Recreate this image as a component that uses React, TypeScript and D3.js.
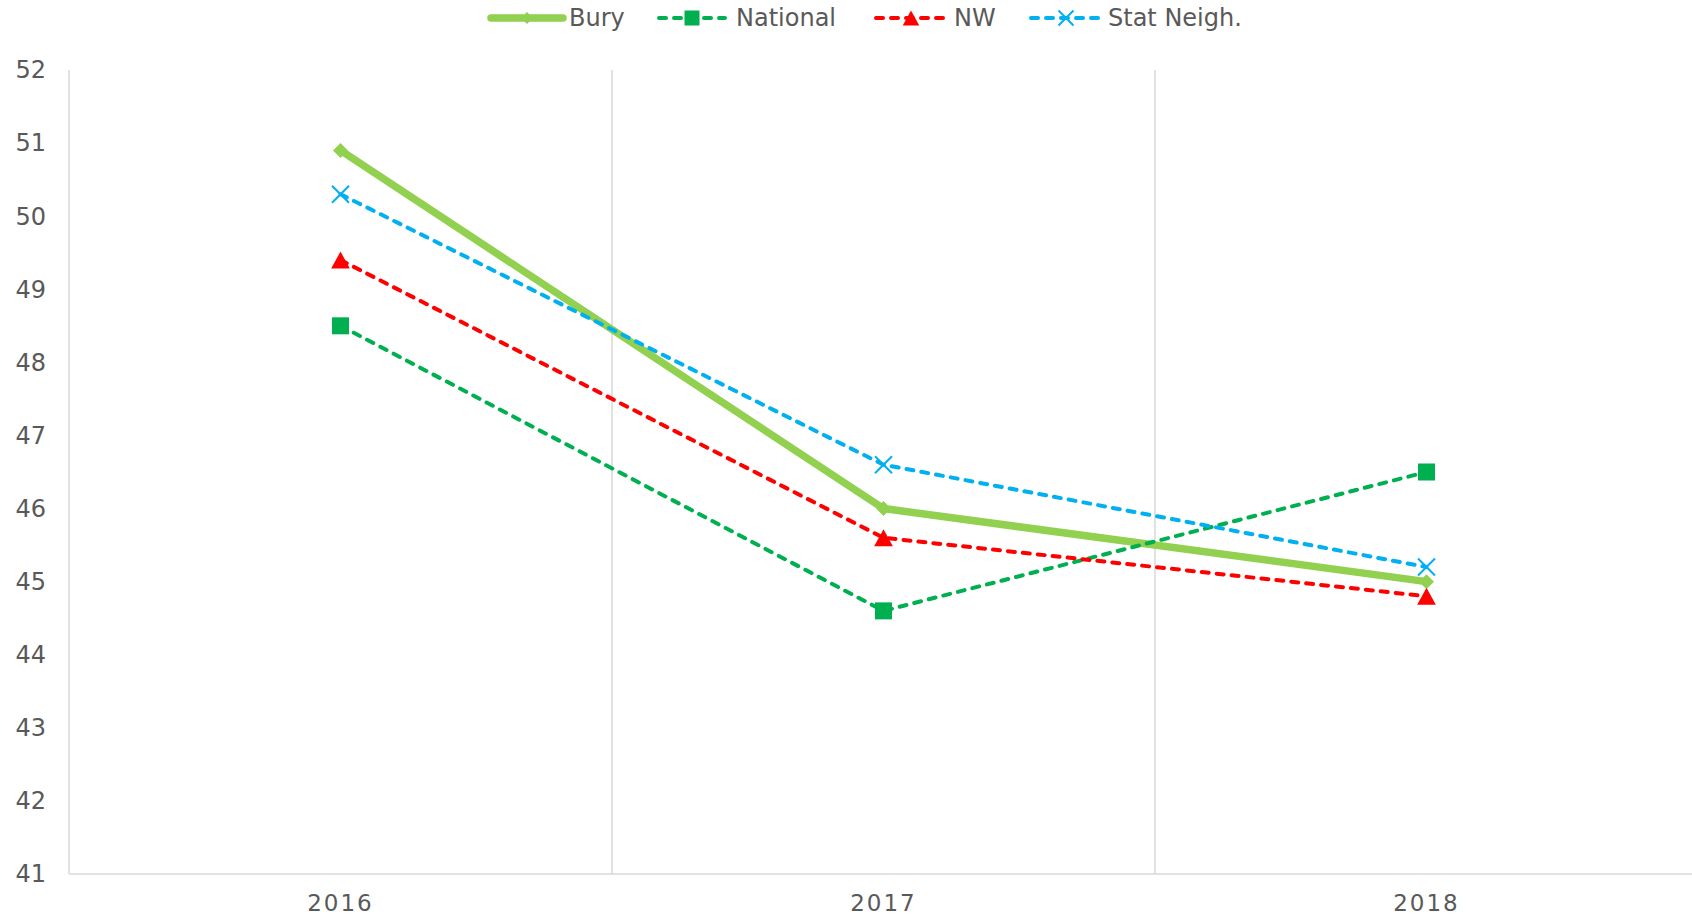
import React, {useEffect, useRef} from 'react'
import * as d3 from 'd3'

const years = ["2016", "2017", "2018"];
const bury = [50.9, 46.0, 45.0];
const national = [48.5, 44.6, 46.5];
const nw = [49.4, 45.6, 44.8];
const statNeigh = [50.3, 46.6, 45.2];
const yTicks = [41, 42, 43, 44, 45, 46, 47, 48, 49, 50, 51, 52];

const series = [
  {name: "Bury", values: bury, color: "#92D050", width: 7.5, dash: null, marker: "diamond"},
  {name: "National", values: national, color: "#00B050", width: 4, dash: "7,8", marker: "square"},
  {name: "NW", values: nw, color: "#FF0000", width: 4, dash: "7,8", marker: "triangle"},
  {name: "Stat Neigh.", values: statNeigh, color: "#00B0F0", width: 4, dash: "7,8", marker: "x"},
];

const FONT = "'DejaVu Sans', Verdana, sans-serif";

const drawMarker = (g, type, color, cx, cy, size) => {
  if (type === "square") {
    g.append("rect")
      .attr("x", cx - size / 2).attr("y", cy - size / 2)
      .attr("width", size).attr("height", size)
      .attr("fill", color);
  } else if (type === "triangle") {
    const s = size * 1.1;
    const h = s * 0.9;
    g.append("path")
      .attr("d", `M${cx},${cy - h / 2}L${cx + s / 2},${cy + h / 2}L${cx - s / 2},${cy + h / 2}Z`)
      .attr("fill", color);
  } else if (type === "x") {
    const r = size / 2;
    g.append("path")
      .attr("d", `M${cx - r},${cy - r}L${cx + r},${cy + r}M${cx - r},${cy + r}L${cx + r},${cy - r}`)
      .attr("stroke", color).attr("stroke-width", 2).attr("fill", "none");
  } else if (type === "diamond") {
    const r = size / 2;
    g.append("path")
      .attr("d", `M${cx},${cy - r}L${cx + r},${cy}L${cx},${cy + r}L${cx - r},${cy}Z`)
      .attr("fill", color);
  }
};

export default function App() {
  const ref = useRef(null);

  useEffect(() => {
    const svg = d3.select(ref.current);
    svg.selectAll("*").remove();

    const x = d3.scaleBand().domain(years).range([69, 1698]).padding(0);
    const y = d3.scaleLinear().domain([41, 52]).range([874, 70]);
    const cx = d => x(d) + x.bandwidth() / 2;

    // vertical gridlines + axis lines
    const gridX = [69, ...years.slice(1).map(d => x(d))];
    svg.append("g").selectAll("line").data(gridX).enter().append("line")
      .attr("x1", d => d).attr("x2", d => d)
      .attr("y1", y(52)).attr("y2", y(41))
      .attr("stroke", "#d9d9d9").attr("stroke-width", 1.5);
    svg.append("line")
      .attr("x1", 69).attr("x2", 1692)
      .attr("y1", y(41)).attr("y2", y(41))
      .attr("stroke", "#d9d9d9").attr("stroke-width", 1.5);

    // y tick labels
    svg.append("g").selectAll("text").data(yTicks).enter().append("text")
      .attr("x", 46).attr("y", d => y(d))
      .attr("dy", "0.35em")
      .attr("text-anchor", "end")
      .attr("font-family", FONT).attr("font-size", 24)
      .attr("fill", "#595959")
      .text(d => d);

    // x tick labels
    svg.append("g").selectAll("text").data(years).enter().append("text")
      .attr("x", d => cx(d)).attr("y", 903)
      .attr("dy", "0.35em")
      .attr("text-anchor", "middle")
      .attr("font-family", FONT).attr("font-size", 23)
      .attr("letter-spacing", 2)
      .attr("fill", "#595959")
      .text(d => d);

    // lines
    series.forEach(s => {
      const line = d3.line().x((d, i) => cx(years[i])).y(d => y(d));
      const path = svg.append("path")
        .datum(s.values)
        .attr("d", line)
        .attr("fill", "none")
        .attr("stroke", s.color)
        .attr("stroke-width", s.width)
        .attr("stroke-linejoin", "round")
        .attr("stroke-linecap", "round");
      if (s.dash) path.attr("stroke-dasharray", s.dash);
      const mg = svg.append("g");
      s.values.forEach((v, i) => {
        drawMarker(mg, s.marker, s.color, cx(years[i]), y(v), s.marker === "diamond" ? 15 : 17);
      });
    });

    // legend
    const legend = [
      {x0: 491, x1: 563, tx: 569},
      {x0: 659, x1: 725, tx: 736},
      {x0: 876, x1: 946, tx: 954},
      {x0: 1031, x1: 1101, tx: 1108},
    ];
    series.forEach((s, i) => {
      const l = legend[i];
      const g = svg.append("g");
      const ln = g.append("line")
        .attr("x1", l.x0).attr("x2", l.x1)
        .attr("y1", 18).attr("y2", 18)
        .attr("stroke", s.color).attr("stroke-width", s.width)
        .attr("stroke-linecap", "round");
      if (s.dash) ln.attr("stroke-dasharray", s.dash);
      drawMarker(g, s.marker, s.color, (l.x0 + l.x1) / 2, 18, s.marker === "diamond" ? 12 : 15);
      g.append("text")
        .attr("x", l.tx).attr("y", 18).attr("dy", "0.35em")
        .attr("font-family", FONT).attr("font-size", 24)
        .attr("fill", "#595959")
        .text(s.name);
    });
  }, []);

  return (
    <svg ref={ref} width={1692} height={918}
      style={{position: "absolute", left: 0, top: 0, background: "#fff"}} />
  )
}
